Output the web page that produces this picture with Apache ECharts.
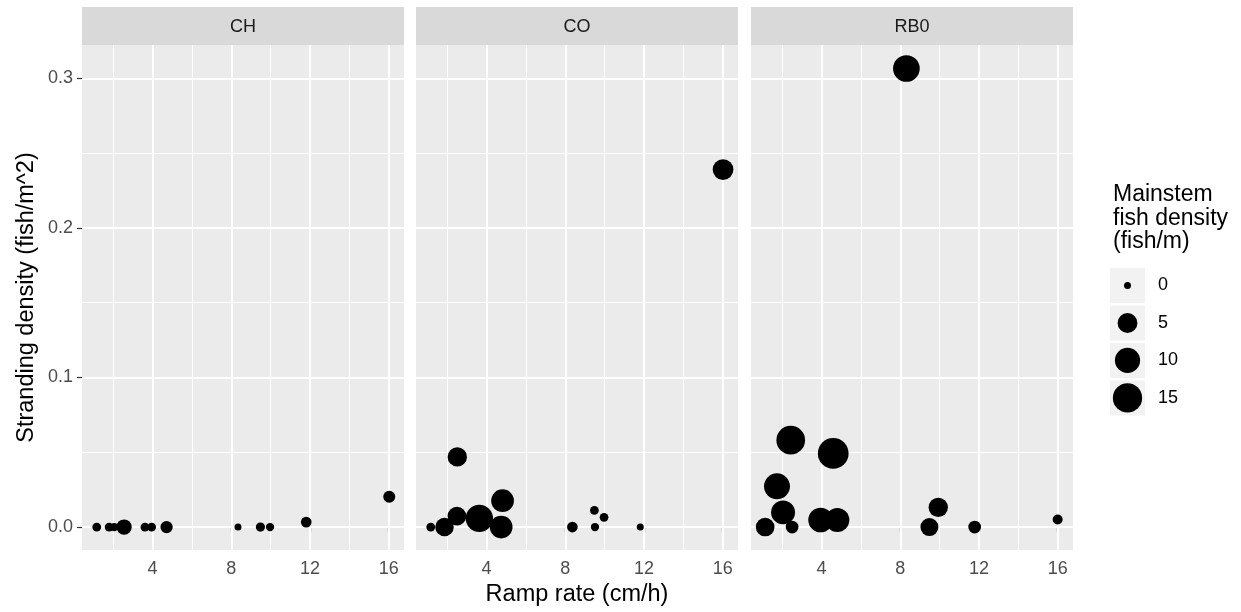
<!DOCTYPE html>
<html>
<head>
<meta charset="utf-8">
<script src="https://cdn.jsdelivr.net/npm/echarts@6/dist/echarts.min.js"></script>
<style>
html,body{margin:0;padding:0;background:#fff;}
#c{width:1241px;height:612px;}
</style>
</head>
<body>
<div id="c"></div>
<script>
// ---- data ----
const facets = ['CH', 'CO', 'RB0'];

const chRamp   = [1.16, 1.79, 2.05, 2.55, 3.61, 3.95, 4.71, 8.34, 9.48, 9.97, 11.81, 16.03];
const chStrand = [0, 0, 0, 0, 0, 0, 0, 0, 0, 0, 0.0033, 0.0202];
const chMain   = [0.1, 0.1, 0.05, 2.1, 0.1, 0.1, 0.85, 0, 0.15, 0.05, 0.41, 0.76];

const coRamp   = [1.16, 1.86, 2.49, 2.51, 3.63, 4.74, 4.81, 8.36, 9.48, 9.51, 9.97, 11.81, 16.02];
const coStrand = [0, 0, 0.0073, 0.0469, 0.0058, 0, 0.0176, 0, 0.0111, 0, 0.0065, 0, 0.239];
const coMain   = [0.1, 4.0, 4.1, 4.6, 12.5, 7.5, 7.5, 0.41, 0.09, 0.05, 0.09, 0, 5.7];

const rbRamp   = [1.13, 1.73, 2.04, 2.43, 2.50, 3.95, 4.80, 4.59, 8.31, 9.48, 9.93, 11.78, 16.0];
const rbStrand = [0, 0.0272, 0.0098, 0.0581, 0, 0.0047, 0.0047, 0.0492, 0.3066, 0, 0.0131, 0, 0.0051];
const rbMain   = [4.1, 10.9, 8.7, 14.2, 0.98, 9.5, 8.7, 17, 11.7, 3.66, 4.6, 0.98, 0.27];

const xTicks = [4, 8, 12, 16];
const xMinor = [2, 6, 10, 14];
const yTicks = [0, 0.1, 0.2, 0.3];
const yMinor = [0.05, 0.15, 0.25];
const legendBreaks = [0, 5, 10, 15];

// ---- layout / style ----
const FONT = '"Liberation Sans", Arial, Helvetica, sans-serif';
const panelLefts = [82, 416, 751];
const PW = 322, PT = 45, PH = 505;
const X_MIN = 0.41, X_MAX = 16.78;
const Y_MIN = -0.01535, Y_MAX = 0.3223;

const sizeOf = v => 7 + 5.75 * Math.sqrt(v);

const facetData = [
  chRamp.map((x, i) => [x, chStrand[i], chMain[i]]),
  coRamp.map((x, i) => [x, coStrand[i], coMain[i]]),
  rbRamp.map((x, i) => [x, rbStrand[i], rbMain[i]])
];

const grids = [], xAxes = [], yAxes = [], series = [], graphics = [];

facets.forEach((name, k) => {
  grids.push({left: panelLefts[k], top: PT, width: PW, height: PH,
    show: true, backgroundColor: '#ebebeb', borderWidth: 0, containLabel: false});
  xAxes.push({
    gridIndex: k, type: 'value', min: X_MIN, max: X_MAX,
    axisLine: {show: false},
    axisTick: {show: true, customValues: xTicks, length: 5, lineStyle: {color: '#333333', width: 1.2}},
    axisLabel: {show: true, customValues: xTicks, margin: 10, color: '#4d4d4d', fontSize: 18, fontFamily: FONT},
    splitLine: {show: false},
    name: k === 1 ? 'Ramp rate (cm/h)' : '',
    nameLocation: 'middle', nameGap: 33,
    nameTextStyle: {color: '#000', fontSize: 23.5, fontFamily: FONT}
  });
  yAxes.push({
    gridIndex: k, type: 'value', min: Y_MIN, max: Y_MAX,
    axisLine: {show: false},
    axisTick: {show: k === 0, customValues: yTicks, length: 5, lineStyle: {color: '#333333', width: 1.2}},
    axisLabel: {show: k === 0, customValues: yTicks, margin: 9, color: '#4d4d4d', fontSize: 18, fontFamily: FONT,
      formatter: v => v.toFixed(1)},
    splitLine: {show: false},
    name: k === 0 ? 'Stranding density (fish/m^2)' : '',
    nameLocation: 'middle', nameGap: 43,
    nameTextStyle: {color: '#000', fontSize: 23.5, fontFamily: FONT}
  });
  // gridlines
  const ml = [];
  xMinor.forEach(v => ml.push({xAxis: v, lineStyle: {width: 1}}));
  yMinor.forEach(v => ml.push({yAxis: v, lineStyle: {width: 1}}));
  xTicks.forEach(v => ml.push({xAxis: v, lineStyle: {width: 2}}));
  yTicks.forEach(v => ml.push({yAxis: v, lineStyle: {width: 2}}));
  series.push({
    type: 'line', xAxisIndex: k, yAxisIndex: k, data: [], z: 1, silent: true,
    markLine: {silent: true, z: 1, symbol: ['none', 'none'], label: {show: false},
      lineStyle: {color: '#ffffff', type: 'solid'}, emphasis: {disabled: true}, animation: false, data: ml}
  });
  series.push({
    type: 'scatter', xAxisIndex: k, yAxisIndex: k, z: 10,
    data: facetData[k],
    symbol: 'circle',
    symbolSize: val => sizeOf(val[2]),
    itemStyle: {color: '#000000', opacity: 1},
    emphasis: {disabled: true}
  });
  // strip
  graphics.push({type: 'rect', shape: {x: panelLefts[k], y: 7, width: PW, height: 38},
    style: {fill: '#d9d9d9'}, silent: true});
  graphics.push({type: 'text', x: panelLefts[k] + PW / 2, y: 27,
    style: {text: name, fill: '#1a1a1a', fontSize: 18, fontFamily: FONT, align: 'center', verticalAlign: 'middle'}, silent: true});
});

// legend (drawn as a small grid)
grids.push({left: 1110, top: 266.7, width: 35, height: 150, show: false});
xAxes.push({gridIndex: 3, type: 'value', min: 0, max: 1, show: false});
yAxes.push({gridIndex: 3, type: 'category', data: legendBreaks.map(String), inverse: true, position: 'right',
  axisLine: {show: false}, axisTick: {show: false}, splitLine: {show: false},
  axisLabel: {margin: 13, color: '#000', fontSize: 18, fontFamily: FONT}});
series.push({type: 'bar', xAxisIndex: 3, yAxisIndex: 3, data: legendBreaks.map(() => 1), barWidth: 35,
  itemStyle: {color: '#f2f2f2'}, silent: true, z: 1});
series.push({type: 'scatter', xAxisIndex: 3, yAxisIndex: 3, z: 10,
  data: legendBreaks.map((b, i) => [0.5, i, b]), symbolSize: val => sizeOf(val[2]),
  itemStyle: {color: '#000', opacity: 1}, silent: true});
graphics.push({type: 'text', x: 1113, y: 183,
  style: {text: 'Mainstem\nfish density\n(fish/m)', fill: '#000', fontSize: 23, lineHeight: 23.5, fontFamily: FONT,
    align: 'left', verticalAlign: 'top'}, silent: true});

const chart = echarts.init(document.getElementById('c'), null, {renderer: 'canvas'});
chart.setOption({
  animation: false,
  backgroundColor: '#ffffff',
  grid: grids, xAxis: xAxes, yAxis: yAxes, series: series,
  graphic: graphics,
  tooltip: {show: false}
});
</script>
</body>
</html>
